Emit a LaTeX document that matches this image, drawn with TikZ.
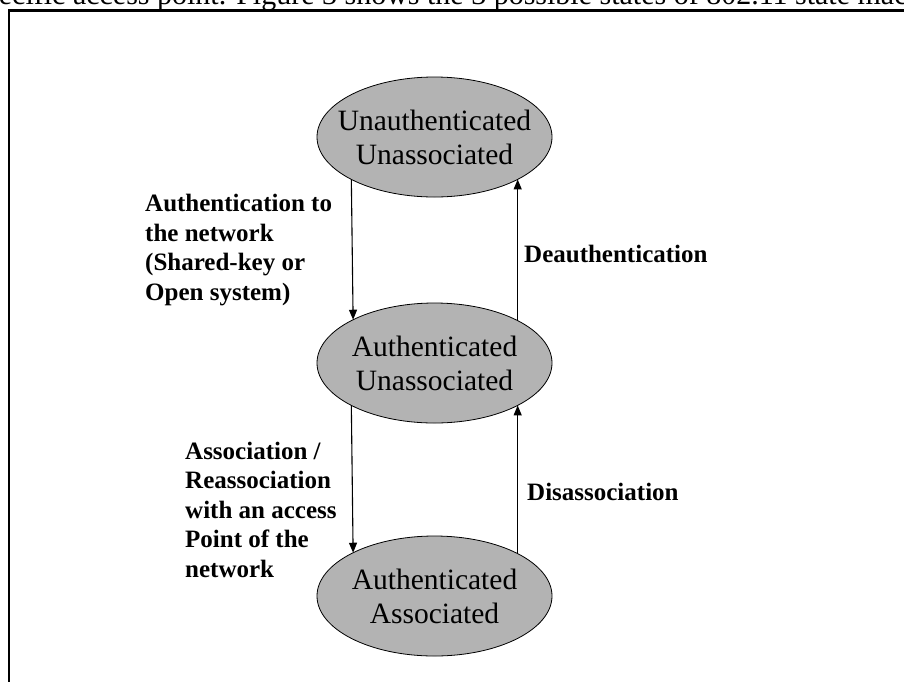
\documentclass[tikz,border=0pt]{standalone}
\usepackage{fontspec}
\setmainfont{Liberation Serif}
\usetikzlibrary{shapes.geometric,arrows.meta}
\definecolor{stategray}{RGB}{179,179,179}
\begin{document}
\begin{tikzpicture}[x=1pt,y=-1pt,
  stateshape/.style={ellipse,draw=black,line width=0.8pt,fill=stategray,
    minimum width=235pt,minimum height=120pt,inner sep=0pt,outer sep=0pt},
  statetext/.style={align=center,font=\fontsize{29.5}{34}\selectfont,inner sep=0pt},
  translabel/.style={align=left,font=\fontsize{25}{29.5}\selectfont\bfseries,
    inner sep=0pt,anchor=base west},
  trans/.style={draw=black,line width=1.1pt,-{Triangle[width=8pt,length=10pt]}},
  frameline/.style={line width=2.5pt},
  bodytext/.style={font=\fontsize{30}{36}\selectfont,inner sep=0pt,anchor=base west}]
\useasboundingbox (0,0) rectangle (904,681);
\clip (0,0) rectangle (904,681);

% running text of the page and the figure frame
\node[bodytext] (intro) at (-28,4.5) {specific access point. Figure 3 shows the 3 possible states of 802.11 state machine};
\draw[frameline] (9,10.5) rectangle (940,720);

% the three states
\node[stateshape] (s1) at (434.5,137) {};
\node[statetext] (s1t) at (s1) {Unauthenticated\\Unassociated};
\node[stateshape] (s2) at (434.5,363) {};
\node[statetext] (s2t) at (s2) {Authenticated\\Unassociated};
\node[stateshape] (s3) at (434.5,596) {};
\node[statetext] (s3t) at (s3) {Authenticated\\Associated};

% transitions
\draw[trans] (s1.207.37) -- (s2.152.63);
\draw[trans] (s2.27.37) -- (s1.-27.37);
\draw[trans] (s2.207.37) -- (s3.152.63);
\draw[trans] (s3.27.37) -- (s2.-27.37);

% transition labels (base anchor sits on the last line)
\node[translabel] (l1) at (145,300) {Authentication to\\the network\\(Shared-key or\\Open system)};
\node[translabel] (l2) at (524,262) {Deauthentication};
\node[translabel] (l3) at (185,577) {Association /\\Reassociation\\with an access\\Point of the\\network};
\node[translabel] (l4) at (527,500) {Disassociation};
\end{tikzpicture}
\end{document}
